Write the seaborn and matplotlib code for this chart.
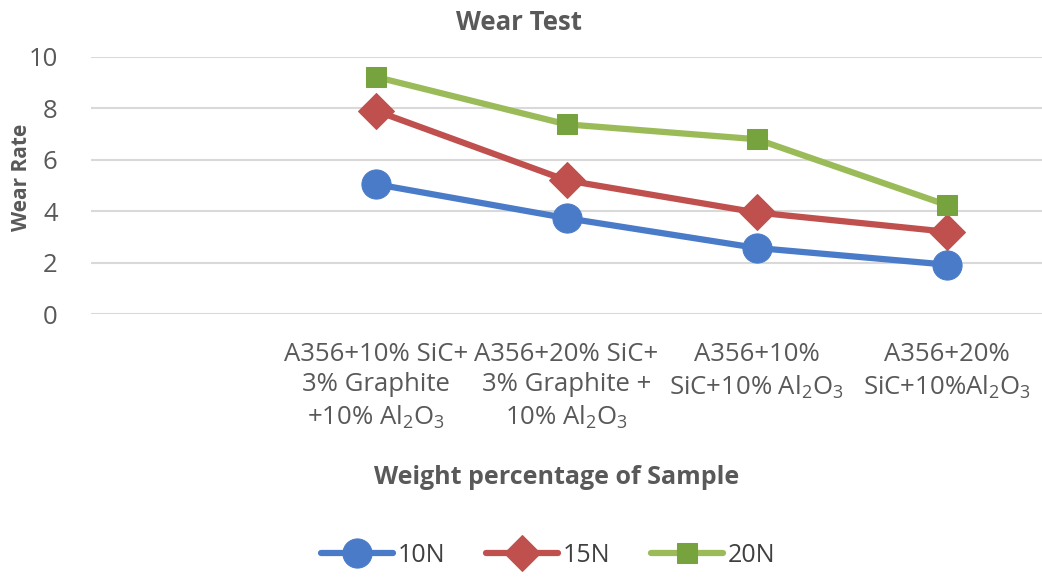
import matplotlib
matplotlib.use("Agg")
import matplotlib.pyplot as plt
import seaborn as sns
import pandas as pd

categories = ["",
              "A356+10% SiC+\n3% Graphite\n+10% Al$_2$O$_3$",
              "A356+20% SiC+\n3% Graphite +\n10% Al$_2$O$_3$",
              "A356+10%\nSiC+10% Al$_2$O$_3$",
              "A356+20%\nSiC+10%Al$_2$O$_3$"]
data_categories = categories[1:]
wear_10N = [5.05, 3.73, 2.57, 1.92]
wear_15N = [7.9, 5.2, 3.95, 3.2]
wear_20N = [9.22, 7.38, 6.8, 4.24]
series_names = ["10N", "15N", "20N"]
y_ticks = [0, 2, 4, 6, 8, 10]

sns.set_theme(style="white")
plt.rcParams['font.family'] = ['Open Sans', 'DejaVu Sans']
plt.rcParams['mathtext.fontset'] = 'custom'
plt.rcParams['mathtext.rm'] = 'Open Sans'

rows = []
for name, vals in zip(series_names, [wear_10N, wear_15N, wear_20N]):
    for cat, v in zip(data_categories, vals):
        rows.append({"x": categories.index(cat), "Wear Rate": v, "Load": name})
df = pd.DataFrame(rows)

fig = plt.figure(figsize=(10.42, 5.8), dpi=100)
ax = fig.add_axes([91/1042, 1-314/580, 1-91/1042, (314-57)/580])

styles = {
    "10N": dict(color="#4A7BC8", marker="o", markersize=21, mfc="#4A7BC8", mec="#4A7BC8"),
    "15N": dict(color="#C0504D", marker="D", markersize=18, mfc="#C0504D", mec="#C0504D"),
    "20N": dict(color="#9BBB59", marker="s", markersize=15, mfc="#77A33E", mec="#77A33E"),
}
for name in series_names:
    st = styles[name]
    sub = df[df["Load"] == name]
    sns.lineplot(data=sub, x="x", y="Wear Rate", ax=ax, color=st["color"], lw=4.5,
                 marker=st["marker"], markersize=st["markersize"],
                 markerfacecolor=st["mfc"], markeredgecolor=st["mec"],
                 label=name, legend=False, zorder=3)

ax.set_xlim(-0.5, len(categories) - 0.5)
ax.set_ylim(0, 10)
ax.set_yticks(y_ticks)
ax.set_yticklabels([str(t) for t in y_ticks])
ax.set_xticks(range(len(categories)))
ax.set_xticklabels(categories, linespacing=1.3)
ax.tick_params(axis='x', length=0, pad=20, labelsize=18.5, labelcolor="#595959")
ax.tick_params(axis='y', length=0, pad=24, labelsize=18.5, labelcolor="#595959")
ax.yaxis.grid(True, color="#D9D9D9", lw=1.5)
ax.xaxis.grid(False)
for s in ax.spines.values():
    s.set_visible(False)
ax.set_xlabel("")
ax.set_ylabel("")

fig.text(22/1042, 1-177/580, "Wear Rate", rotation=90, ha="center", va="center",
         fontsize=15, fontweight="bold", color="#595959")
fig.text(519/1042, 1-23/580, "Wear Test", ha="center", va="center",
         fontsize=18.5, fontweight="bold", color="#595959")
fig.text(557/1042, 1-478/580, "Weight percentage of Sample", ha="center", va="center",
         fontsize=18, fontweight="bold", color="#595959")

handles, labels = ax.get_legend_handles_labels()
fig.legend(handles, labels, loc="center", bbox_to_anchor=(548/1042, 1-555/580), ncol=3,
           frameon=False, fontsize=18, labelcolor="#404040", handlelength=2.9,
           columnspacing=1.6, handletextpad=0.2)

fig.savefig("out.png", dpi=100)
